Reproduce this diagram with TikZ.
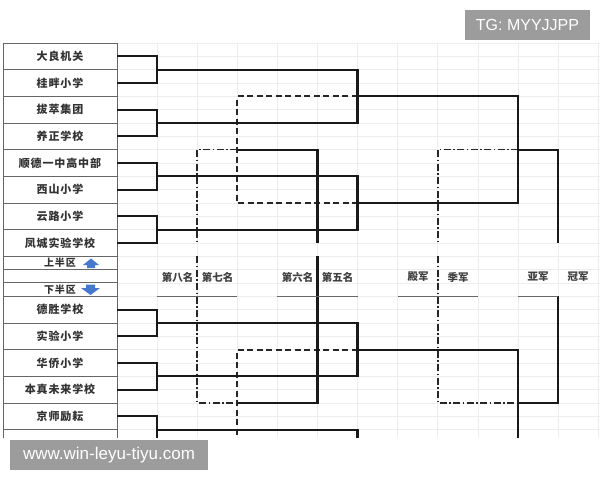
\documentclass[tikz,border=0pt]{standalone}
\usepackage{fontspec}
\setmainfont{Liberation Sans}
\newfontfamily\cjk{Noto Sans CJK SC}
\newfontfamily\cjkt{Noto Sans CJK SC}[LetterSpace=8.0]
\definecolor{wm}{HTML}{9C9C9C}
\definecolor{arrowblue}{RGB}{70,120,205}
\begin{document}
\begin{tikzpicture}[x=1pt,y=-1pt,
  gridl/.style={draw=black!7, line width=0.7pt},
  win/.style={draw=black!90, line width=2.3pt},
  lose/.style={draw=black!85, line width=1.9pt, dash pattern=on 6pt off 3.5pt},
  lose2/.style={draw=black!85, line width=1.5pt, dash pattern=on 7pt off 2.5pt on 1.5pt off 2.5pt},
  team/.style={draw=black!60, line width=0.9pt, minimum width=114pt, minimum height=26.67pt, inner sep=0pt, text=black!80, font=\cjkt\bfseries\fontsize{11}{11}\selectfont},
  halfrow/.style={team, minimum height=13.33pt, font=\cjkt\bfseries\fontsize{10}{10}\selectfont},
  lab/.style={inner sep=1pt, text=black!75, font=\cjk\bfseries\fontsize{10.5}{10.5}\selectfont},
  uline/.style={draw=black!60, line width=1.3pt},
  wmbox/.style={fill=wm, text=white, inner sep=0pt}
]
\useasboundingbox (0,0) rectangle (600,480);
\fill[white] (0,0) rectangle (600,480);

\begin{scope}
\clip (0,0) rectangle (600,437);
% spreadsheet grid
\foreach \k in {0,...,30} \draw[gridl] (117,{43+13.333*\k}) -- (600,{43+13.333*\k});
\foreach \c in {1,...,12} \draw[gridl] ({117+40.1*\c},43) -- ({117+40.1*\c},437);

% table of teams
\node[team] (t1) at (60,56.33) {大良机关};
\node[team] (t2) at (60,83) {桂畔小学};
\node[team] (t3) at (60,109.67) {拔萃集团};
\node[team] (t4) at (60,136.33) {养正学校};
\node[team] (t5) at (60,163) {顺德一中高中部};
\node[team] (t6) at (60,189.67) {西山小学};
\node[team] (t7) at (60,216.33) {云路小学};
\node[team] (t8) at (60,243) {凤城实验学校};
\node[halfrow] (up) at (60,262.67) {上半区};
\node[halfrow] (gap) at (60,276) {};
\node[halfrow] (dn) at (60,289.33) {下半区};
\node[team] (t9) at (60,309.67) {德胜学校};
\node[team] (t10) at (60,336.33) {实验小学};
\node[team] (t11) at (60,363) {华侨小学};
\node[team] (t12) at (60,389.67) {本真未来学校};
\node[team] (t13) at (60,416.33) {京师励耘};
\node[team] (t14) at (60,443) {};

% blue arrows
\fill[arrowblue] (83,265) -- (91,258.5) -- (99,265) -- (95,265) -- (95,268) -- (87,268) -- (87,265) -- cycle;
\fill[arrowblue] (86,284.5) -- (95,284.5) -- (95,288) -- (100,288) -- (90.5,295) -- (81,288) -- (86,288) -- cycle;

% junction coordinates
\coordinate (r1) at (157.1,69.67);
\coordinate (r2) at (157.1,123);
\coordinate (r3) at (157.1,176.33);
\coordinate (r4) at (157.1,229.67);
\coordinate (r5) at (157.1,323);
\coordinate (r6) at (157.1,376.33);
\coordinate (r7) at (157.1,429.67);
\coordinate (r8) at (157.1,483);
\coordinate (q1) at (357.6,96.33);
\coordinate (q2) at (357.6,203);
\coordinate (q3) at (357.6,349.67);
\coordinate (q4) at (357.6,456.33);
\coordinate (s1) at (518,149.67);
\coordinate (s2) at (518,403);
\coordinate (l1) at (237.3,149.67);
\coordinate (l2) at (237.3,403);
\coordinate (fU) at (558.1,243);
\coordinate (fL) at (558.1,296.33);
\coordinate (m5U) at (317.5,243);
\coordinate (m5L) at (317.5,256.33);
\coordinate (m7U) at (197.2,243);
\coordinate (m7L) at (197.2,256.33);
\coordinate (m3U) at (437.8,243);
\coordinate (m3L) at (437.8,256.33);

% losers' paths (drawn first)
\draw[lose] (q1) -| (l1) |- (q2);
\draw[lose] (q3) -| (l2) |- (q4);
\draw[lose2] (l1) -| (m7U);
\draw[lose2] (m7L) |- (l2);
\draw[lose2] (s1) -| (m3U);
\draw[lose2] (m3L) |- (s2);

% first round
\draw[win] (t1.east) -| (r1) |- (t2.east);
\draw[win] (t3.east) -| (r2) |- (t4.east);
\draw[win] (t5.east) -| (r3) |- (t6.east);
\draw[win] (t7.east) -| (r4) |- (t8.east);
\draw[win] (t9.east) -| (r5) |- (t10.east);
\draw[win] (t11.east) -| (r6) |- (t12.east);
\draw[win] (t13.east) -| (r7) |- (t14.east);
% quarter finals
\draw[win] (r1) -| (q1) |- (r2);
\draw[win] (r3) -| (q2) |- (r4);
\draw[win] (r5) -| (q3) |- (r6);
\draw[win] (r7) -| (q4) |- (r8);
% semi finals
\draw[win] (q1) -| (s1) |- (q2);
\draw[win] (q3) -| (s2) |- (q4);
% final
\draw[win] (s1) -| (fU);
\draw[win] (fL) |- (s2);
% fifth place
\draw[win] (l1) -| (m5U);
\draw[win] (m5L) |- (l2);
\end{scope}

% place labels
\node[lab] (p8) at (177.5,277) {第八名};
\node[lab] (p7) at (217.5,277) {第七名};
\node[lab] (p6) at (297.5,277) {第六名};
\node[lab] (p5) at (337.5,277) {第五名};
\node[lab] (p4) at (418,277) {殿军};
\node[lab] (p3) at (458,277) {季军};
\node[lab] (p2) at (538,277) {亚军};
\node[lab] (p1) at (578,277) {冠军};
\draw[uline] (157.1,296.33) -- (237.3,296.33);
\draw[uline] (277.4,296.33) -- (357.6,296.33);
\draw[uline] (397.7,296.33) -- (477.9,296.33);
\draw[uline] (518,296.33) -- (558.1,296.33);

% watermark boxes
\node[wmbox, minimum width=125pt, minimum height=30pt, font=\fontsize{16}{16}\selectfont] (tg) at (527.5,25) {TG: MYYJJPP};
\node[wmbox, minimum width=198pt, minimum height=30pt, font=\fontsize{17}{17}\selectfont] (url) at (109,455) {www.win-leyu-tiyu.com};
\end{tikzpicture}
\end{document}
